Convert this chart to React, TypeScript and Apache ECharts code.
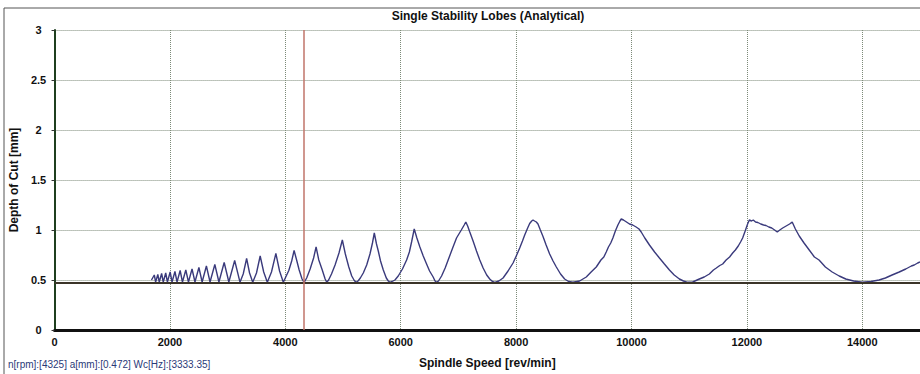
import React, { useEffect, useRef } from "react";
import * as echarts from "echarts";

// ---- Data ----
const xTicks = [0, 2000, 4000, 6000, 8000, 10000, 12000, 14000];
const yTicks = [0, 0.5, 1, 1.5, 2, 2.5, 3];

// small, high-order lobes (spindle speed rev/min, depth of cut mm)
const smallLobeSpeeds = [
  1680, 1729, 1752, 1790, 1815, 1856, 1884, 1927, 1956, 2004, 2036, 2087, 2123,
  2177, 2217, 2275, 2321, 2383, 2434, 2502, 2558, 2632, 2695, 2778, 2849, 2940,
  3021, 3122, 3214, 3270, 3329, 3380, 3435, 3500, 3564, 3625, 3688, 3760, 3836,
  3900, 3965,
];
const smallLobeDepths = [
  0.5, 0.55, 0.48, 0.555, 0.48, 0.565, 0.48, 0.57, 0.48, 0.58, 0.48, 0.585, 0.48,
  0.595, 0.48, 0.6, 0.48, 0.61, 0.48, 0.625, 0.48, 0.64, 0.48, 0.655, 0.48, 0.675,
  0.48, 0.695, 0.478, 0.56, 0.715, 0.57, 0.478, 0.57, 0.74, 0.58, 0.478, 0.58,
  0.765, 0.59, 0.478,
];

// medium lobes
const midLobeSpeeds = [
  4060, 4110, 4152, 4200, 4240, 4290, 4325, 4370, 4430, 4490, 4533, 4580, 4640,
  4690, 4718, 4750, 4800, 4862, 4930, 4988, 5040, 5100, 5151, 5195, 5225, 5260,
  5300, 5351, 5410, 5467, 5510, 5542, 5580, 5611, 5650, 5698, 5750, 5785, 5813,
  5850, 5900, 5957, 6030, 6102, 6150, 6188, 6234, 6280, 6332, 6390, 6448, 6500,
  6562, 6595, 6621, 6655, 6708, 6770, 6822, 6900, 6967, 7050, 7100, 7128, 7160,
  7197, 7254, 7313, 7370, 7428, 7490, 7543, 7590, 7630,
];
const midLobeDepths = [
  0.595, 0.69, 0.795, 0.69, 0.6, 0.51, 0.475, 0.52, 0.61, 0.72, 0.83, 0.7, 0.6,
  0.51, 0.477, 0.5, 0.56, 0.65, 0.77, 0.9, 0.76, 0.63, 0.54, 0.495, 0.477, 0.49,
  0.52, 0.57, 0.65, 0.76, 0.87, 0.97, 0.86, 0.79, 0.69, 0.6, 0.52, 0.49, 0.477,
  0.485, 0.5, 0.54, 0.61, 0.7, 0.78, 0.88, 1.01, 0.92, 0.83, 0.74, 0.66, 0.59,
  0.53, 0.49, 0.477, 0.49, 0.54, 0.62, 0.7, 0.82, 0.92, 1.0, 1.05, 1.08, 1.04,
  0.98, 0.89, 0.79, 0.7, 0.62, 0.55, 0.51, 0.485, 0.477,
];

// large, low-order lobes
const largeLobeSpeeds = [
  7700, 7774, 7860, 7947, 8010, 8062, 8110, 8149, 8200, 8235, 8270, 8293, 8320,
  8350, 8379, 8420, 8466, 8520, 8581, 8640, 8697, 8770, 8841, 8910, 8985, 9100,
  9216, 9300, 9389, 9470, 9520, 9562, 9600, 9640, 9677, 9720, 9764, 9800, 9822,
  9860, 9900, 9965, 10020, 10080, 10130, 10168, 10230, 10311, 10400, 10484,
  10570, 10657, 10740, 10830, 10900, 10974, 11060, 11176, 11260, 11349, 11420,
  11470, 11530, 11580, 11640, 11700, 11753, 11800, 11850, 11890, 11926, 11970,
  12012, 12042, 12080, 12110, 12150, 12190, 12240, 12290, 12330, 12380, 12430,
  12480, 12526, 12570, 12620, 12680, 12740, 12785, 12840, 12907, 12990, 13080,
  13170, 13250, 13360, 13478, 13600, 13714, 13850, 14000, 14150, 14290, 14400,
  14516, 14640, 14753, 14850, 14900, 14960, 15000,
];
const largeLobeDepths = [
  0.49, 0.52, 0.59, 0.67, 0.75, 0.82, 0.89, 0.95, 1.02, 1.065, 1.09, 1.1, 1.09,
  1.08, 1.06, 1.0, 0.935, 0.85, 0.76, 0.69, 0.63, 0.56, 0.51, 0.485, 0.477, 0.49,
  0.53, 0.58, 0.63, 0.7, 0.73, 0.78, 0.83, 0.87, 0.92, 0.99, 1.05, 1.09, 1.11,
  1.1, 1.085, 1.06, 1.05, 1.03, 1.01, 0.98, 0.92, 0.85, 0.78, 0.72, 0.66, 0.6,
  0.55, 0.51, 0.49, 0.477, 0.48, 0.51, 0.53, 0.56, 0.6, 0.62, 0.645, 0.66, 0.7,
  0.73, 0.77, 0.8, 0.84, 0.88, 0.92, 0.99, 1.06, 1.1, 1.09, 1.1, 1.08, 1.075,
  1.06, 1.05, 1.045, 1.03, 1.02, 1.0, 0.98, 1.0, 1.02, 1.04, 1.06, 1.08, 1.01,
  0.94, 0.87, 0.8, 0.73, 0.7, 0.63, 0.58, 0.54, 0.51, 0.49, 0.477, 0.485, 0.5,
  0.52, 0.55, 0.58, 0.61, 0.64, 0.65, 0.67, 0.68,
];

const limitDepth = 0.475;
const cursorSpeed = 4325;
const cursorText = "n[rpm]:[4325] a[mm]:[0.472] Wc[Hz]:[3333.35]";
const titleText = "Single Stability Lobes (Analytical)";

const FONT = 'Arial, "Liberation Sans", sans-serif';

export default function App() {
  const ref = useRef<HTMLDivElement>(null);

  useEffect(() => {
    if (!ref.current) return;
    const chart = echarts.init(ref.current, null, { renderer: "svg" });
    const speeds = [...smallLobeSpeeds, ...midLobeSpeeds, ...largeLobeSpeeds];
    const depths = [...smallLobeDepths, ...midLobeDepths, ...largeLobeDepths];
    const data = speeds.map((s, i) => [s, depths[i]]);

    const gridLine = {
      show: true,
      lineStyle: { color: "#7c8a78", type: [1, 1] as any, width: 1 },
    };

    chart.setOption({
      animation: false,
      backgroundColor: "#ffffff",
      grid: { left: 54, right: -2, top: 30, bottom: 36, containLabel: false },
      xAxis: {
        type: "value",
        min: xTicks[0],
        max: 15000,
        interval: 2000,
        name: "Spindle Speed [rev/min]",
        nameLocation: "middle",
        nameGap: 27,
        nameTextStyle: { fontFamily: FONT, fontWeight: "bold", fontSize: 12, color: "#111" },
        axisLine: { show: true, onZero: false, lineStyle: { color: "#111", width: 3 } },
        axisTick: { show: false },
        axisLabel: {
          fontFamily: FONT,
          fontWeight: "bold",
          fontSize: 11,
          color: "#111",
          margin: 6,
          showMaxLabel: false,
          formatter: (v: number) => String(v),
        },
        splitLine: gridLine,
      },
      yAxis: {
        type: "value",
        min: yTicks[0],
        max: yTicks[yTicks.length - 1],
        interval: 0.5,
        name: "Depth of Cut [mm]",
        nameLocation: "middle",
        nameGap: 34,
        nameTextStyle: { fontFamily: FONT, fontWeight: "bold", fontSize: 12, color: "#111" },
        axisLine: { show: true, onZero: false, lineStyle: { color: "#1f3f1f", width: 2 } },
        axisTick: { show: true, length: 3, lineStyle: { color: "#333" } },
        axisLabel: {
          fontFamily: FONT,
          fontWeight: "bold",
          fontSize: 11,
          color: "#111",
          align: "center",
          margin: 16,
          formatter: (v: number) => String(v),
        },
        splitLine: gridLine,
      },
      graphic: [
        {
          type: "rect",
          z: -10,
          silent: true,
          shape: { x: 4, y: 8, width: 1000, height: 1000 },
          style: { fill: "none", stroke: "#555", lineWidth: 1 },
        },
        {
          type: "text",
          x: 488,
          y: 16,
          silent: true,
          style: {
            text: titleText,
            font: `bold 12px ${FONT}`,
            fill: "#111",
            textAlign: "center",
            textVerticalAlign: "middle",
          },
        },
        {
          type: "text",
          x: 8,
          y: 364,
          silent: true,
          style: {
            text: cursorText,
            font: `10px ${FONT}`,
            fill: "#2a3a78",
            textAlign: "left",
            textVerticalAlign: "middle",
          },
        },
      ],
      series: [
        {
          type: "line",
          data,
          showSymbol: false,
          symbol: "none",
          lineStyle: { color: "#3a3a7c", width: 1.4 },
          z: 3,
          markLine: {
            silent: true,
            symbol: "none",
            label: { show: false },
            animation: false,
            data: [
              { yAxis: limitDepth, lineStyle: { color: "#3b3428", width: 2, type: "solid" } },
              { xAxis: cursorSpeed, lineStyle: { color: "#c0756a", width: 1.5, type: "solid" } },
            ],
          },
        },
      ],
    });
    return () => chart.dispose();
  }, []);

  return (
    <div
      ref={ref}
      style={{ position: "fixed", left: 0, top: 0, width: 920, height: 374, background: "#fff" }}
    />
  );
}
